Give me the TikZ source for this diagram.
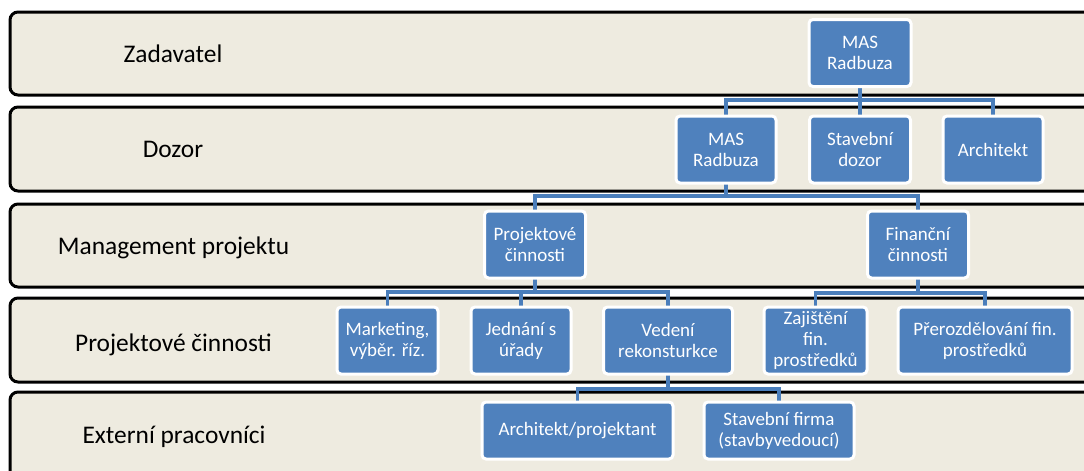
\documentclass[tikz,border=0pt]{standalone}
\usepackage{fontspec}
\setmainfont{Carlito}
\pgfdeclarelayer{bg}
\pgfdeclarelayer{mid}
\pgfsetlayers{bg,mid,main}
\definecolor{bandfill}{HTML}{EEEBE0}
\definecolor{boxblue}{HTML}{4F81BD}
\definecolor{lineblue}{HTML}{4A7EBB}
\begin{document}
\begin{tikzpicture}[x=1pt,y=-1pt,
  band/.style={draw=black, line width=3pt, fill=bandfill, rounded corners=8pt},
  box/.style={fill=boxblue, draw=white, line width=3pt, rounded corners=4pt, text=white,
    font=\fontsize{19}{21}\selectfont, align=center, inner sep=0pt, minimum height=67pt},
  lbl/.style={font=\fontsize{25.4}{30}\selectfont, anchor=base, text=black},
  conn/.style={draw=lineblue, line width=3.5pt}]
\useasboundingbox (0,0) rectangle (1084,471);
\begin{pgfonlayer}{bg}
\fill[white] (0,0) rectangle (1084,471);
\draw[band] (10,12) rectangle (1110,95);
\draw[band] (10,107) rectangle (1110,191);
\draw[band] (10,204) rectangle (1110,287);
\draw[band] (10,298) rectangle (1110,382);
\draw[band] (10,392) rectangle (1110,490);
\end{pgfonlayer}
% labels
\node[lbl] (l1) at (173,62) {Zadavatel};
\node[lbl] (l2) at (173,157) {Dozor};
\node[lbl] (l3) at (173.5,254) {Management projektu};
\node[lbl] (l4) at (173.5,351) {Projektové činnosti};
\node[lbl] (l5) at (174,443) {Externí pracovníci};
% boxes
\node[box, minimum width=102pt] (zad) at (860,53) {MAS\\Radbuza};
\node[box, minimum width=100pt] (d1) at (726,149.5) {MAS\\Radbuza};
\node[box, minimum width=101pt] (d2) at (860,149.5) {Stavební\\dozor};
\node[box, minimum width=100pt] (d3) at (993,149.5) {Architekt};
\node[box, minimum width=101pt] (m1) at (535,244.5) {Projektové\\činnosti};
\node[box, minimum width=101pt] (m2) at (918,244.5) {Finanční\\činnosti};
\node[box, minimum width=101pt] (p1) at (387.5,340.5) {Marketing,\\výběr. říz.};
\node[box, minimum width=100pt] (p2) at (521,340.5) {Jednání s\\úřady};
\node[box, minimum width=129pt] (p3) at (668,340.5) {Vedení\\rekonsturkce};
\node[box, minimum width=103pt] (p4) at (815.5,340.5) {Zajištění\\fin.\\prostředků};
\node[box, minimum width=174pt] (p5) at (985,340.5) {Přerozdělování fin.\\prostředků};
\node[box, minimum width=191pt, minimum height=57pt] (e1) at (577.5,430.5) {Architekt/projektant};
\node[box, minimum width=150pt, minimum height=57pt] (e2) at (779,430.5) {Stavební firma\\(stavbyvedoucí)};
% connectors
\begin{pgfonlayer}{mid}
\draw[conn] (zad.center) -- (zad.center |- 0,100) -| (d1.center);
\draw[conn] (zad.center |- 0,100) -| (d3.center);
\draw[conn] (zad.center) -- (d2.center);
\draw[conn] (d1.center) -- (d1.center |- 0,196) -| (m1.center);
\draw[conn] (d1.center |- 0,196) -| (m2.center);
\draw[conn] (m1.center) -- (m1.center |- 0,292) -| (p1.center);
\draw[conn] (m1.center |- 0,292) -| (p2.center);
\draw[conn] (m1.center |- 0,292) -| (p3.center);
\draw[conn] (m2.center) -- (m2.center |- 0,293) -| (p4.center);
\draw[conn] (m2.center |- 0,293) -| (p5.center);
\draw[conn] (p3.center) -- (p3.center |- 0,389) -| (e1.center);
\draw[conn] (p3.center |- 0,389) -| (e2.center);
\end{pgfonlayer}
\end{tikzpicture}
\end{document}
